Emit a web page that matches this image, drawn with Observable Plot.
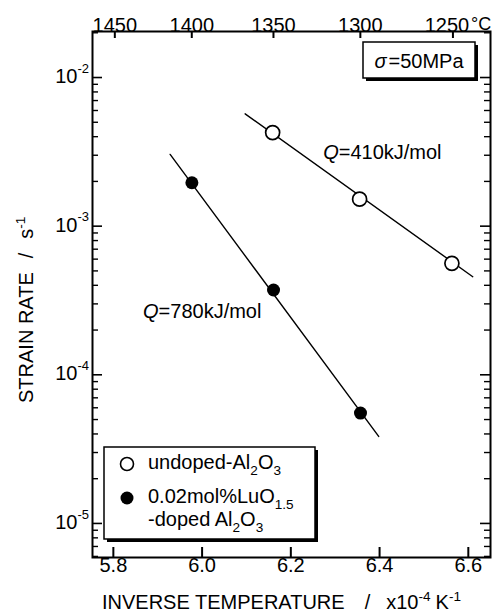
<!DOCTYPE html>
<html><head><meta charset="utf-8">
<script src="https://cdn.jsdelivr.net/npm/d3@7"></script>
<script src="https://cdn.jsdelivr.net/npm/@observablehq/plot@0.6"></script>
<style>
body{margin:0;background:#fff;}
svg{font-family:"Liberation Sans",Arial,Helvetica,sans-serif;}
</style>
</head><body><div id="chart"></div>
<script>
// ---- data ----
const undopedX = [6.159, 6.355, 6.563];
const undopedY = [4.26e-3, 1.52e-3, 5.62e-4];
const dopedX = [5.977, 6.161, 6.357];
const dopedY = [1.96e-3, 3.72e-4, 5.53e-5];
const undopedFitX = [6.097, 6.610];
const undopedFitY = [5.70e-3, 4.57e-4];
const dopedFitX = [5.928, 6.398];
const dopedFitY = [3.04e-3, 3.85e-5];
const xTicks = [5.8, 6.0, 6.2, 6.4, 6.6];
const tempTicksC = [1450, 1400, 1350, 1300, 1250];
const yExponents = [-5, -4, -3, -2];
const qTexts = ["=410kJ/mol", "=780kJ/mol"];
const qX = [6.273, 5.867];
const qY = [3.14e-3, 2.65e-4];
const stressLabel = "=50MPa";

// ---- layout ----
const W = 493, H = 615, mL = 92, mR = 3, mT = 31, mB = 58;
const innerW = W - mL - mR, innerH = H - mT - mB;
const FONT = '"Liberation Sans",Arial,Helvetica,sans-serif';

const undoped = undopedX.map((x, i) => ({x, y: undopedY[i]}));
const doped = dopedX.map((x, i) => ({x, y: dopedY[i]}));
const undopedFit = undopedFitX.map((x, i) => ({x, y: undopedFitY[i]}));
const dopedFit = dopedFitX.map((x, i) => ({x, y: dopedFitY[i]}));
const yMajor = yExponents.map(e => Math.pow(10, e));
const yMinor = [];
for (let e = -6; e <= -2; e++) for (let m = 2; m <= 9; m++) {
  const v = m * Math.pow(10, e);
  if (v > 5.9e-6 && v < 0.0204) yMinor.push(v);
}
const toInv = c => 1e4 / (c + 273.15);
const qData = qTexts.map((t, i) => ({t, x: qX[i], y: qY[i]}));

function rich(parent, x, y, parts, {size = 20, anchor = "start", rotate = false} = {}) {
  const t = parent.append("text").attr("x", x).attr("y", y)
    .attr("font-size", size).attr("text-anchor", anchor).attr("fill", "#000")
    .attr("font-family", FONT);
  if (rotate) t.attr("transform", `rotate(-90 ${x} ${y})`);
  let shift = 0;
  for (const p of parts) {
    const s = t.append("tspan").text(p.t);
    const target = p.sup ? -0.42 * size : p.sub ? 0.28 * size : 0;
    s.attr("dy", target - shift); shift = target;
    if (p.sup || p.sub) s.attr("font-size", size * 0.68);
    if (p.italic) s.attr("font-style", "italic");
    if (p.dx) s.attr("dx", p.dx);
  }
  return t;
}

function shadowBox(g, x, y, w, h) {
  g.append("rect").attr("x", x + 3).attr("y", y + 3).attr("width", w).attr("height", h).attr("fill", "#000");
  g.append("rect").attr("x", x).attr("y", y).attr("width", w).attr("height", h)
    .attr("fill", "#fff").attr("stroke", "#000").attr("stroke-width", 1.5);
}

function decorations() {
  const g = d3.create("svg:g");
  // sigma box
  shadowBox(g, 363, 42, 112, 36);
  rich(g, 419, 68, [{t: "σ", italic: true}, {t: stressLabel, dx: 2}], {anchor: "middle"});
  // legend box
  shadowBox(g, 104, 447, 211, 92);
  g.append("circle").attr("cx", 127).attr("cy", 464).attr("r", 6.5)
    .attr("fill", "#fff").attr("stroke", "#000").attr("stroke-width", 1.6);
  g.append("circle").attr("cx", 127).attr("cy", 498).attr("r", 6.5).attr("fill", "#000");
  rich(g, 148, 469, [{t: "undoped-Al"}, {t: "2", sub: true}, {t: "O"}, {t: "3", sub: true}]);
  rich(g, 148, 503, [{t: "0.02mol%LuO"}, {t: "1.5", sub: true}]);
  rich(g, 148, 526, [{t: "-doped Al"}, {t: "2", sub: true}, {t: "O"}, {t: "3", sub: true}]);
  // axis titles
  rich(g, 102, 609, [{t: "INVERSE TEMPERATURE"}, {t: "/", dx: 20}, {t: "x10", dx: 16},
    {t: "-4", sup: true}, {t: "K", dx: 5}, {t: "-1", sup: true}]);
  rich(g, 33, 403, [{t: "STRAIN RATE"}, {t: "/", dx: 14}, {t: "s", dx: 14}, {t: "-1", sup: true}],
    {rotate: true});
  return g.node();
}

const chart = Plot.plot({
  width: W, height: H,
  marginLeft: mL, marginRight: mR, marginTop: mT, marginBottom: mB,
  x: {domain: [5.753, 6.65], axis: null},
  y: {type: "log", domain: [5.9e-6, 0.0204], axis: null},
  style: {fontFamily: FONT, fontSize: "20px", color: "#000", background: "#fff"},
  marks: [
    // ticks (inward)
    Plot.ruleX(xTicks, {insetTop: innerH - 10, strokeWidth: 2}),
    Plot.ruleX(tempTicksC.map(toInv), {insetBottom: innerH - 7, strokeWidth: 2}),
    Plot.ruleY(yMajor, {insetRight: innerW - 10, strokeWidth: 1.6}),
    Plot.ruleY(yMajor, {insetLeft: innerW - 10, strokeWidth: 1.6}),
    Plot.ruleY(yMinor, {insetRight: innerW - 6, strokeWidth: 1.4}),
    Plot.ruleY(yMinor, {insetLeft: innerW - 6, strokeWidth: 1.4}),
    Plot.frame({strokeWidth: 2}),
    // tick labels
    Plot.text(xTicks, {x: d => d, frameAnchor: "bottom", dy: 14, text: d => d.toFixed(1), fontSize: 20}),
    Plot.text(tempTicksC.slice(0, -1), {x: toInv, frameAnchor: "top", dy: -14, text: d => String(d), fontSize: 20}),
    Plot.text(tempTicksC.slice(-1), {x: toInv, frameAnchor: "top", dy: -14, dx: -6, text: d => String(d), fontSize: 20}),
    Plot.text(tempTicksC.slice(-1), {x: toInv, frameAnchor: "top", dy: -14, dx: 18, textAnchor: "start", text: () => "°C", fontSize: 18, letterSpacing: -1}),
    Plot.text(yMajor, {y: d => d, frameAnchor: "left", dx: -15, dy: -1, textAnchor: "end", text: () => "10", fontSize: 20}),
    Plot.text(yExponents, {y: d => Math.pow(10, d), frameAnchor: "left", dx: -15, dy: -9, textAnchor: "start", text: d => "-" + Math.abs(d), fontSize: 13}),
    // fit lines
    Plot.line(undopedFit, {x: "x", y: "y", stroke: "#000", strokeWidth: 1.4}),
    Plot.line(dopedFit, {x: "x", y: "y", stroke: "#000", strokeWidth: 1.4}),
    // data points
    Plot.dot(undoped, {x: "x", y: "y", r: 7, fill: "#fff", stroke: "#000", strokeWidth: 1.7}),
    Plot.dot(doped, {x: "x", y: "y", r: 6.5, fill: "#000", stroke: "none"}),
    // activation energy labels
    Plot.text(qData, {x: "x", y: "y", text: () => "Q", fontStyle: "italic", textAnchor: "start", fontSize: 20}),
    Plot.text(qData, {x: "x", y: "y", text: "t", dx: 15.5, textAnchor: "start", fontSize: 20}),
    decorations
  ]
});
document.getElementById("chart").appendChild(chart);
</script>
</body></html>
